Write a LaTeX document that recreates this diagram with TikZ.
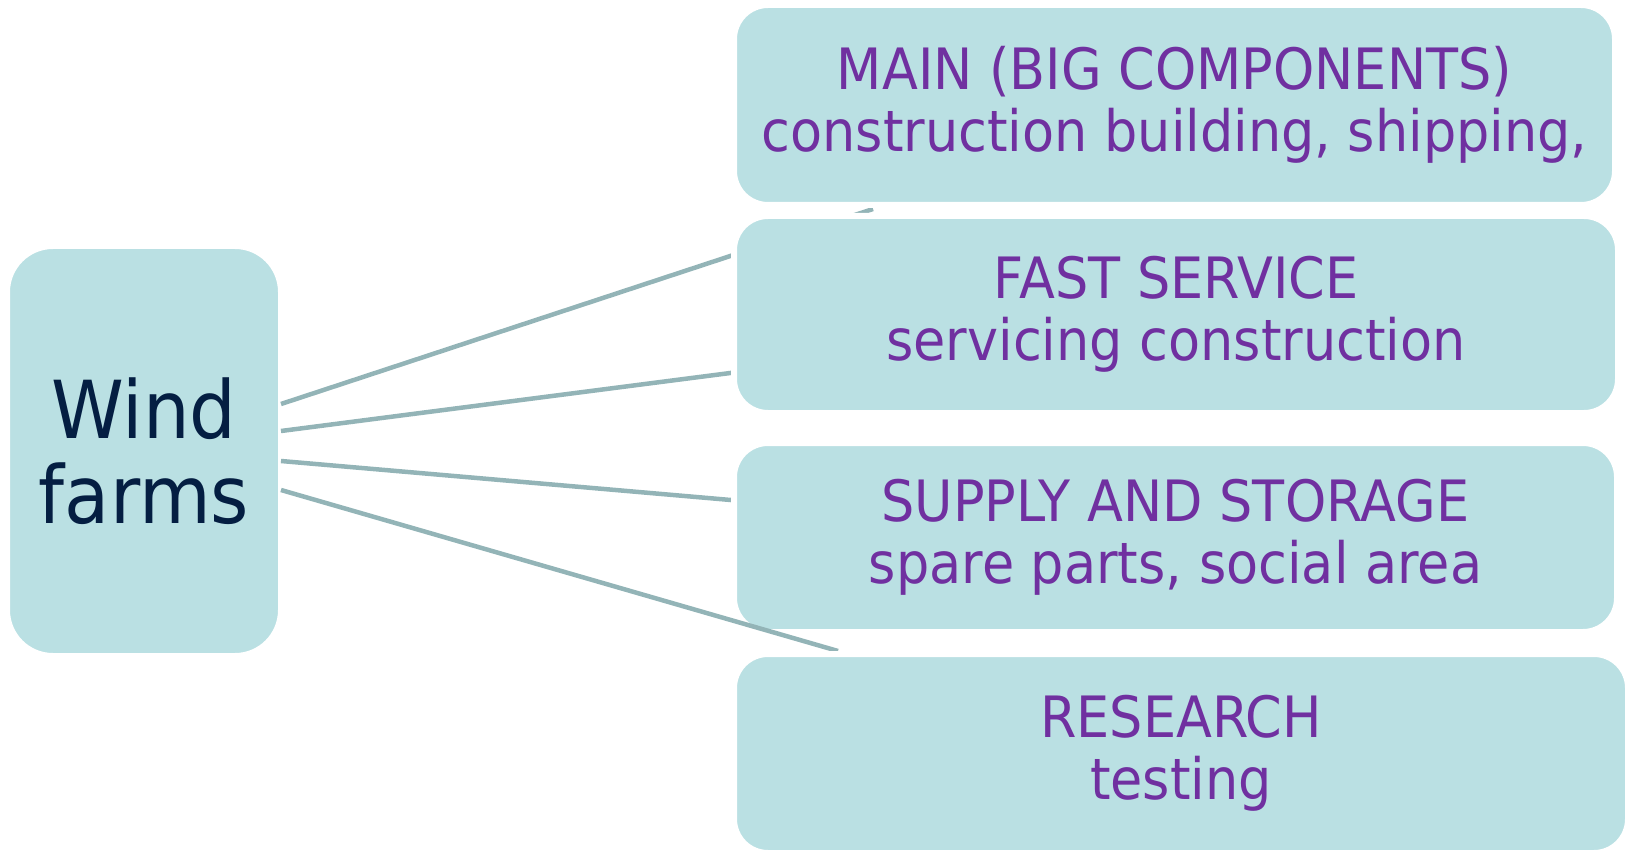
\documentclass[tikz,border=0pt]{standalone}
\usepackage{fontspec}
\setmainfont{DejaVu Sans}[FakeStretch=0.92]
\usetikzlibrary{shapes}
\usetikzlibrary{positioning}
\definecolor{boxfill}{RGB}{186,224,227}
\definecolor{linkgray}{RGB}{147,180,183}
\definecolor{headpurple}{RGB}{112,48,160}
\definecolor{farmnavy}{RGB}{4,30,66}

\begin{document}
\begin{tikzpicture}[x=1pt,y=-1pt,
  topic/.style 2 args={
    rectangle,
    rounded corners=34pt,
    fill=boxfill,
    draw=white,
    line width=6pt,
    inner sep=0pt,
    outer sep=0pt,
    minimum width=#1+6,
    minimum height=#2+6,
    text=headpurple,
    align=center,
    font=\fontsize{57}{62}\selectfont},
  hub/.style={
    rectangle,
    rounded corners=46pt,
    fill=boxfill,
    draw=white,
    line width=6pt,
    inner sep=0pt,
    outer sep=0pt,
    minimum width=274,
    minimum height=410,
    text=farmnavy,
    align=center,
    font=\fontsize{80}{85}\selectfont},
  link/.style={draw=linkgray, line width=4.5pt}]
  \useasboundingbox (0,0) rectangle (1625,850);
  % draw wind farm box
  \node[hub] (farm) at (144,451) {Wind\\farms};
  % draw upper links first, the topic boxes hide their far ends
  \foreach \dy/\ex/\ey [count=\step from 1] in {-47/873/209,-20/800/364,10/800/506} {
    \coordinate (end\step) at (\ex,\ey);
    \draw[link] ([shift={(0,\dy)}]farm.east) -- (end\step);
  }
  % draw topic boxes
  \node[topic={875}{194}] (main) at (1174.5,105) {MAIN (BIG COMPONENTS)\\construction building, shipping,};
  \node[topic={878}{191}] (fast) at (1176,314.5) {FAST SERVICE\\servicing construction};
  \node[topic={877}{183}] (supply) at (1175.5,537.5) {SUPPLY AND STORAGE\\spare parts, social area};
  % edge case: lowest link runs over the supply corner
  \coordinate (end4) at (838,651);
  \draw[link] ([shift={(0,39)}]farm.east) -- (end4);
  \node[topic={888}{193}] (research) at (1181,753.5) {RESEARCH\\testing};
\end{tikzpicture}
\end{document}
